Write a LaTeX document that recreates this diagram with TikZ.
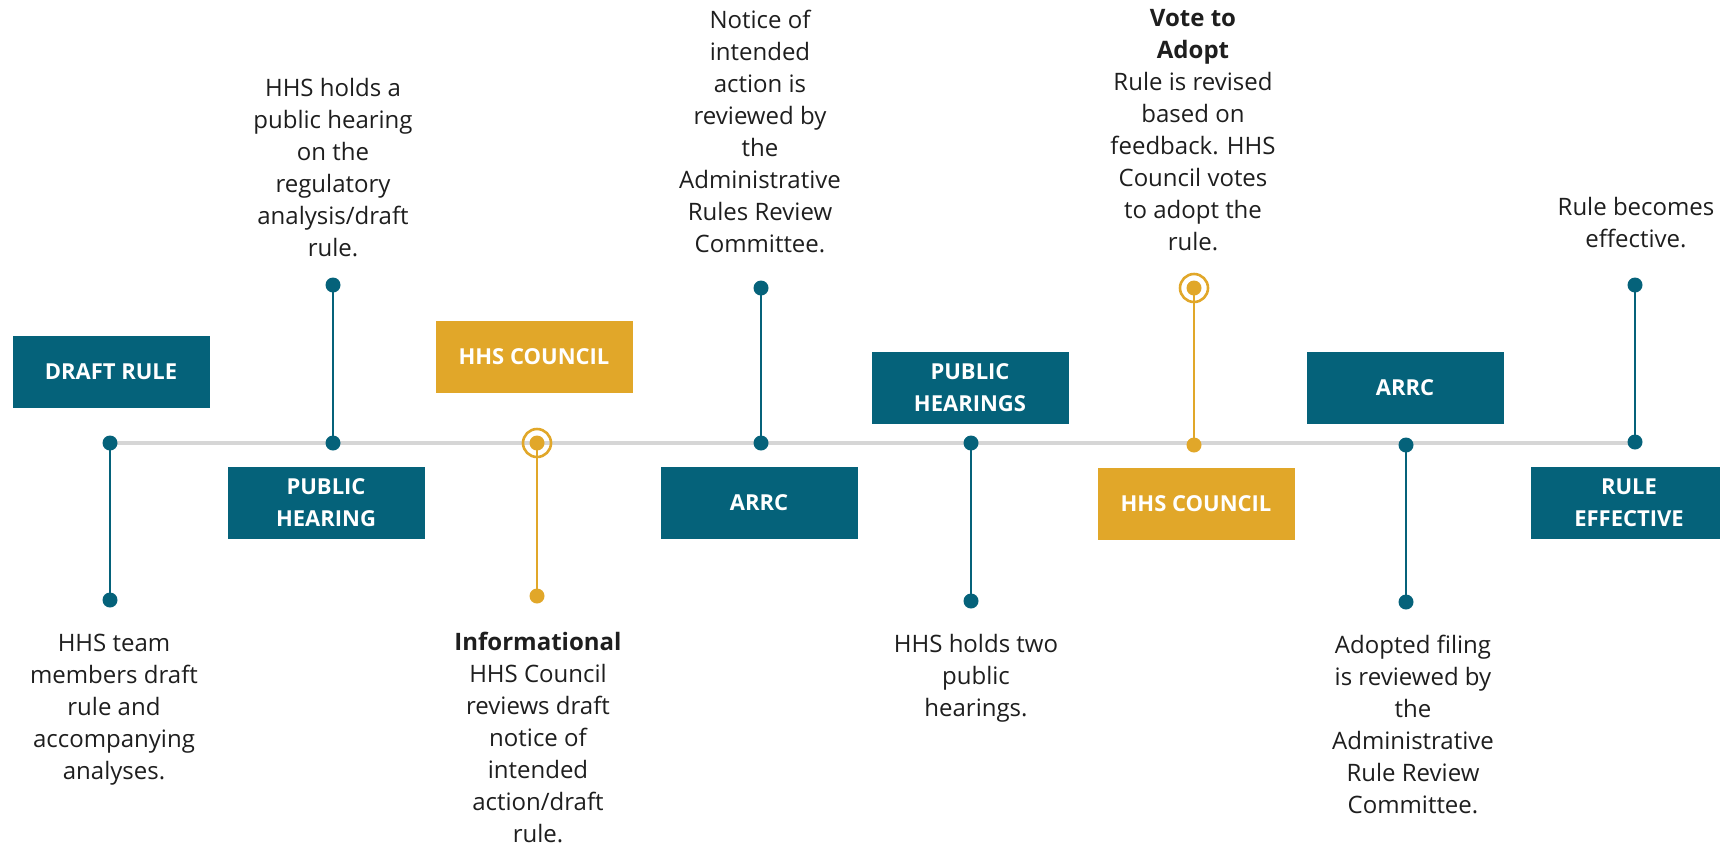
\documentclass[tikz,border=0pt]{standalone}
\usepackage{fontspec}
\setmainfont{Open Sans}
\usepackage{tikz}
\definecolor{hhsteal}{HTML}{05627A}
\definecolor{hhsgold}{HTML}{E1A729}
\definecolor{linegray}{HTML}{D6D6D6}
\definecolor{notetext}{HTML}{1E1E1E}
\tikzset{
  stage/.style={fill=#1, text=white, font=\fontsize{11}{16}\selectfont\bfseries,
    align=center, minimum width=98.5pt, minimum height=36pt, inner sep=0pt},
  note/.style={font=\fontsize{12}{16}\selectfont, align=center, text=notetext, inner sep=0pt},
  stem/.style={draw=#1, line width=1.4pt},
  pin/.style={circle, fill=#1, inner sep=0pt, minimum size=7.5pt},
  ring/.style={circle, draw=hhsgold, line width=1.3pt, inner sep=0pt, minimum size=14pt},
}

\begin{document}
\begin{tikzpicture}[x=0.5pt,y=-0.5pt]
   \useasboundingbox (0,0) rectangle (1720,847);
   % timeline
   \coordinate (tlstart) at (110,443);
   \coordinate (tlend) at (1635,443);
   \draw[linegray, line width=1.8pt] (tlstart) -- (tlend);

   % stems
   \coordinate (p1) at (110,443);  \coordinate (q1) at (110,600);
   \coordinate (p2) at (333,443);  \coordinate (q2) at (333,285);
   \coordinate (p3) at (537,443);  \coordinate (q3) at (537,596);
   \coordinate (p4) at (761,443);  \coordinate (q4) at (761,288);
   \coordinate (p5) at (971,443);  \coordinate (q5) at (971,601);
   \coordinate (p6) at (1194,445); \coordinate (q6) at (1194,288);
   \coordinate (p7) at (1406,445); \coordinate (q7) at (1406,602);
   \coordinate (p8) at (1635,442); \coordinate (q8) at (1635,285);
   \draw[stem=hhsteal] (p1) -- (q1);
   \draw[stem=hhsteal] (p2) -- (q2);
   \draw[stem=hhsgold] (p3) -- (q3);
   \draw[stem=hhsteal] (p4) -- (q4);
   \draw[stem=hhsteal] (p5) -- (q5);
   \draw[stem=hhsgold] (p6) -- (q6);
   \draw[stem=hhsteal] (p7) -- (q7);
   \draw[stem=hhsteal] (p8) -- (q8);

   % dots
   \foreach \p in {p1,q1,p2,q2,p4,q4,p5,q5,p7,q7,p8,q8}
      \node[pin=hhsteal] at (\p) {};
   \foreach \p in {p3,q3,p6,q6}
      \node[pin=hhsgold] at (\p) {};
   \node[ring] (ring3) at (p3) {};
   \node[ring] (ring6) at (q6) {};

   % stage boxes
   \node[stage=hhsteal] (draftrule) at (111,372) {DRAFT RULE};
   \node[stage=hhsteal] (pubhearing) at (326,503) {PUBLIC\\HEARING};
   \node[stage=hhsgold] (council1) at (534,357) {HHS COUNCIL};
   \node[stage=hhsteal] (arrc1) at (759,503) {ARRC};
   \node[stage=hhsteal] (pubhearings) at (970,388) {PUBLIC\\HEARINGS};
   \node[stage=hhsgold] (council2) at (1196,504) {HHS COUNCIL};
   \node[stage=hhsteal] (arrc2) at (1405,388) {ARRC};
   \node[stage=hhsteal] (ruleeff) at (1629,503) {RULE\\EFFECTIVE};

   % notes
   \node[note, anchor=north] (note1) at (114,634)
      {HHS team\\members draft\\rule and\\accompanying\\analyses.};
   \node[note, anchor=south] (note2) at (333,257)
      {HHS holds a\\public hearing\\on the\\regulatory\\analysis/draft\\rule.};
   \node[note, anchor=north] (note3) at (538,632)
      {\textbf{Informational}\\HHS Council\\reviews draft\\notice of\\intended\\action/draft\\rule.};
   \node[note, anchor=south] (note4) at (760,253)
      {Notice of\\intended\\action is\\reviewed by\\the\\Administrative\\Rules Review\\Committee.};
   \node[note, anchor=north] (note5) at (976,634)
      {HHS holds two\\public\\hearings.};
   \node[note, anchor=south] (note6) at (1193,251)
      {\textbf{Vote to}\\\textbf{Adopt}\\Rule is revised\\based on\\feedback. HHS\\Council votes\\to adopt the\\rule.};
   \node[note, anchor=north] (note7) at (1413,635)
      {Adopted filing\\is reviewed by\\the\\Administrative\\Rule Review\\Committee.};
   \node[note, anchor=south] (note8) at (1636,248)
      {Rule becomes\\effective.};
\end{tikzpicture}
\end{document}
